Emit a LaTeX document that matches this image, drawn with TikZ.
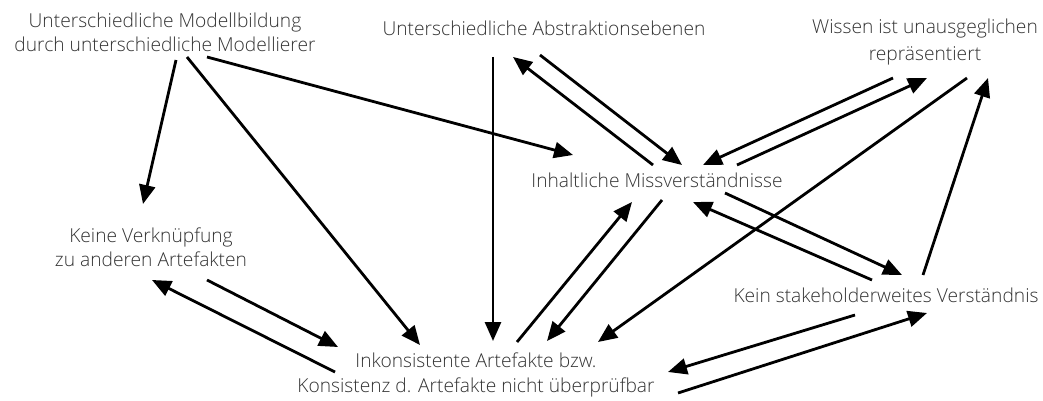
\documentclass[tikz,border=0pt]{standalone}
\usepackage{fontspec}
\setmainfont{Open Sans Light}
\usetikzlibrary{arrows.meta}
\definecolor{txt}{HTML}{333333}
\tikzset{
  lbl/.style={inner sep=0pt, text=txt, font=\fontsize{19.2}{24}\selectfont, align=center},
  con/.style={line width=2.8pt, -{Triangle[length=19pt,width=16pt]}}
}
\begin{document}
\begin{tikzpicture}[x=1pt,y=-1pt]
\useasboundingbox (0,0) rectangle (1043,401);
\node[lbl] (A) at (165,32) {Unterschiedliche Modellbildung\\durch unterschiedliche Modellierer};
\node[lbl] (B) at (544,28) {Unterschiedliche Abstraktionsebenen};
\node[lbl, font=\fontsize{19.2}{27}\selectfont] (C) at (925,42) {Wissen ist unausgeglichen\\repräsentiert};
\node[lbl] (D) at (657,180) {Inhaltliche Missverständnisse};
\node[lbl] (E) at (151,247) {Keine Verknüpfung\\zu anderen Artefakten};
\node[lbl, font=\fontsize{19.2}{25}\selectfont] (F) at (476,375) {Inkonsistente Artefakte bzw.\\Konsistenz d. Artefakte nicht überprüfbar};
\node[lbl] (G) at (886,295) {Kein stakeholderweites Verständnis};

\draw[con] ([shift={(11,28)}]A.center) -- ([shift={(-8,-43)}]E.center);
\draw[con] ([shift={(22,25)}]A.center) -- ([shift={(-56,-30)}]F.center);
\draw[con] ([shift={(42,25)}]A.center) -- ([shift={(-84,-25)}]D.center);
\draw[con] ([shift={(-51,29)}]B.center) -- ([shift={(17,-34)}]F.center);
\draw[con] ([shift={(-4,-15)}]D.center) -- ([shift={(-31,29)}]B.center);
\draw[con] ([shift={(-4,27)}]B.center) -- ([shift={(25,-15)}]D.center);
\draw[con] ([shift={(-32,36)}]C.center) -- ([shift={(46,-15)}]D.center);
\draw[con] ([shift={(80,-15)}]D.center) -- ([shift={(2,36)}]C.center);
\draw[con] ([shift={(42,36)}]C.center) -- ([shift={(122,-33)}]F.center);
\draw[con] ([shift={(37,-20)}]G.center) -- ([shift={(63,36)}]C.center);
\draw[con] ([shift={(68,13)}]D.center) -- ([shift={(16,-20)}]G.center);
\draw[con] ([shift={(-14,-15)}]G.center) -- ([shift={(36,22)}]D.center);
\draw[con] ([shift={(41,-33)}]F.center) -- ([shift={(-25,22)}]D.center);
\draw[con] ([shift={(5,20)}]D.center) -- ([shift={(71,-34)}]F.center);
\draw[con] ([shift={(56,33)}]E.center) -- ([shift={(-138,-28)}]F.center);
\draw[con] ([shift={(-141,-3)}]F.center) -- ([shift={(1,33)}]E.center);
\draw[con] ([shift={(-31,20)}]G.center) -- ([shift={(192,-3)}]F.center);
\draw[con] ([shift={(202,18)}]F.center) -- ([shift={(41,18)}]G.center);
\end{tikzpicture}
\end{document}
